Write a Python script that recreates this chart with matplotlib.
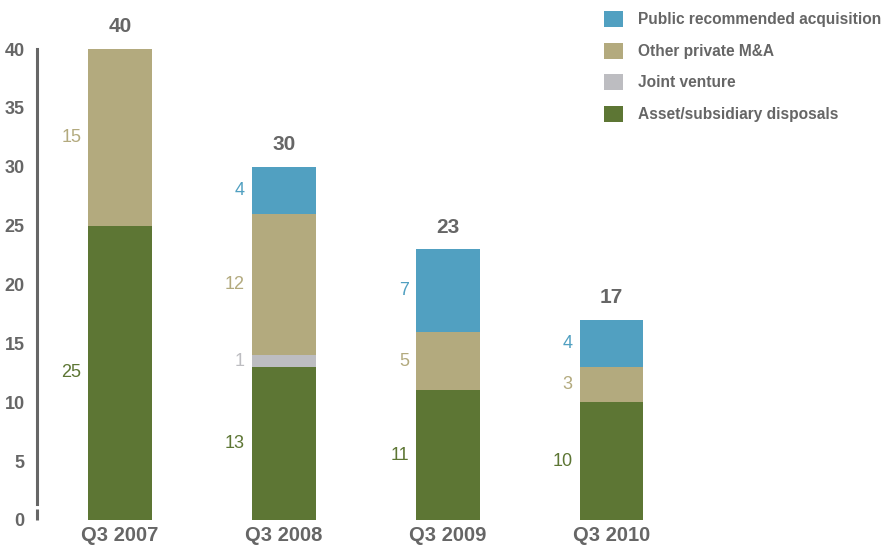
import matplotlib.pyplot as plt
import numpy as np

plt.rcParams['font.family'] = ['Liberation Sans', 'DejaVu Sans']

# Data
quarters = ['Q3 2007', 'Q3 2008', 'Q3 2009', 'Q3 2010']
asset_disposals = [25, 13, 11, 10]
joint_venture = [0, 1, 0, 0]
other_private = [15, 12, 5, 3]
public_recommended = [0, 4, 7, 4]
totals = [40, 30, 23, 17]

series = [
    ('Asset/subsidiary disposals', asset_disposals, '#5D7634'),
    ('Joint venture', joint_venture, '#BDBDC1'),
    ('Other private M&A', other_private, '#B3AA7E'),
    ('Public recommended acquisition', public_recommended, '#51A0C1'),
]

grey = '#666666'

fig = plt.figure(figsize=(8.86, 5.47), dpi=100)
ax = fig.add_axes([37 / 886, 27 / 547, 663 / 886, 471 / 547])

x = np.arange(len(quarters))
width = 0.39
bottom = np.zeros(len(quarters))
handles = {}
for name, vals, color in series:
    vals = np.array(vals, dtype=float)
    bars = ax.bar(x, vals, width, bottom=bottom, color=color, label=name)
    handles[name] = bars
    for xi, v, b in zip(x, vals, bottom):
        if v > 0:
            ax.annotate(str(int(v)), (xi - width / 2, b + v / 2),
                        xytext=(-5, 0), textcoords='offset points',
                        ha='right', va='center', fontsize=13, color=color)
    bottom += vals

# totals on top
for xi, t in zip(x, totals):
    ax.annotate(str(t), (xi, t), xytext=(0, 9), textcoords='offset points',
                ha='center', va='bottom', fontsize=15, fontweight='bold', color=grey)

ax.set_xlim(-0.507, 3.54)
ax.set_ylim(0, 40)
ax.set_yticks(range(0, 41, 5))
ax.set_xticks(x)
ax.set_xticklabels(quarters)

for s in ['top', 'right', 'bottom']:
    ax.spines[s].set_visible(False)
ax.spines['left'].set_color(grey)
ax.spines['left'].set_linewidth(2.2)
ax.spines['left'].set_bounds(1.4, 40)
ax.plot([-0.507, -0.507], [0, 0.9], color=grey, lw=2.2, clip_on=False, solid_capstyle='butt')

ax.tick_params(axis='y', length=0, pad=9, labelsize=13, labelcolor=grey)
ax.tick_params(axis='x', length=0, pad=4, labelsize=14.5, labelcolor=grey)
for lbl in ax.get_yticklabels() + ax.get_xticklabels():
    lbl.set_fontweight('bold')

order = ['Public recommended acquisition', 'Other private M&A',
         'Joint venture', 'Asset/subsidiary disposals']
leg = fig.legend([handles[n] for n in order], order,
                 loc='upper left', bbox_to_anchor=(598 / 886, 1 - 5 / 547),
                 frameon=False, fontsize=11.2, handlelength=1.2, handleheight=1.2,
                 handletextpad=0.95, labelspacing=0.98, borderaxespad=0)
for t in leg.get_texts():
    t.set_color(grey)
    t.set_fontweight('bold')

fig.savefig('out.png', dpi=100)
